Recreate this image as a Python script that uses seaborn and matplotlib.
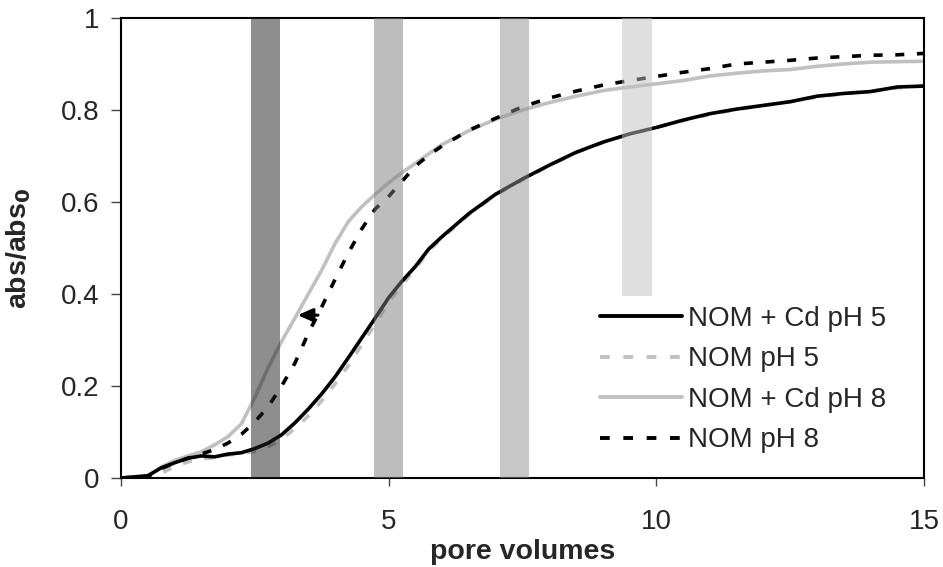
import matplotlib
matplotlib.use("Agg")
import matplotlib.pyplot as plt
import seaborn as sns
import pandas as pd

# ---- data ----
pore_volumes = [0, 0.5, 0.75, 1.0, 1.25, 1.5, 1.75, 2.0, 2.25, 2.5, 2.75, 3.0, 3.25, 3.5,
                3.75, 4.0, 4.25, 4.5, 4.75, 5.0, 5.25, 5.5, 5.75, 6.0, 6.5, 7.0, 7.5, 8.0,
                8.5, 9.0, 9.5, 10.0, 10.5, 11.0, 11.5, 12.0, 12.5, 13.0, 13.5, 14.0, 14.5, 15.0]

nom_cd_ph5 = [0, 0.005, 0.022, 0.033, 0.043, 0.048, 0.046, 0.052, 0.055, 0.064, 0.076, 0.094,
              0.12, 0.15, 0.183, 0.22, 0.262, 0.305, 0.348, 0.392, 0.428, 0.46, 0.498, 0.525,
              0.575, 0.617, 0.65, 0.68, 0.708, 0.73, 0.748, 0.762, 0.778, 0.792, 0.802, 0.81,
              0.818, 0.83, 0.836, 0.84, 0.85, 0.852]

nom_ph5 = [0, 0, 0.01, 0.025, 0.035, 0.042, 0.044, 0.05, 0.053, 0.058, 0.068, 0.084,
           0.108, 0.135, 0.168, 0.205, 0.245, 0.29, 0.335, 0.382, 0.42, 0.455, 0.494, 0.522,
           0.573, 0.615, 0.648, 0.679, 0.707, 0.729, 0.747, 0.762, 0.777, 0.79, 0.801, 0.81,
           0.818, 0.828, 0.835, 0.841, 0.848, 0.853]

nom_cd_ph8 = [0, 0.002, 0.024, 0.038, 0.048, 0.057, 0.072, 0.09, 0.118, 0.175, 0.24, 0.297,
              0.348, 0.4, 0.452, 0.51, 0.558, 0.59, 0.617, 0.642, 0.664, 0.684, 0.705, 0.725,
              0.755, 0.78, 0.8, 0.816, 0.83, 0.842, 0.85, 0.857, 0.864, 0.874, 0.88, 0.885,
              0.888, 0.895, 0.9, 0.904, 0.905, 0.906]

nom_ph8 = [0, 0.003, 0.02, 0.033, 0.043, 0.052, 0.062, 0.076, 0.095, 0.122, 0.155, 0.2,
           0.25, 0.315, 0.372, 0.432, 0.49, 0.542, 0.585, 0.612, 0.645, 0.678, 0.702, 0.722,
           0.756, 0.782, 0.807, 0.826, 0.841, 0.854, 0.864, 0.873, 0.882, 0.89, 0.9, 0.904,
           0.908, 0.913, 0.916, 0.919, 0.92, 0.923]

series_labels = ["NOM + Cd pH 5", "NOM pH 5", "NOM + Cd pH 8", "NOM pH 8"]

# shaded sampling windows (pore volumes) and lower limits
band_starts = [2.43, 4.73, 7.08, 9.36]
band_ends = [2.97, 5.27, 7.63, 9.91]
band_bottoms = [0.0, 0.0, 0.0, 0.395]

x_ticks = [0, 5, 10, 15]
y_ticks = [0, 0.2, 0.4, 0.6, 0.8, 1.0]
y_tick_labels = ["0", "0.2", "0.4", "0.6", "0.8", "1"]

# ---- build long table ----
frames = []
for lab, vals in zip(series_labels, [nom_cd_ph5, nom_ph5, nom_cd_ph8, nom_ph8]):
    frames.append(pd.DataFrame({"pv": pore_volumes, "ratio": vals, "series": lab}))
df = pd.concat(frames, ignore_index=True)

sns.set_style("white")
plt.rcParams["font.family"] = ["Liberation Sans", "DejaVu Sans"]

fig = plt.figure(figsize=(9.43, 5.67), dpi=100)
ax = fig.add_axes([121 / 943, 1 - 478 / 567, (924 - 121) / 943, (478 - 18) / 567])

palette = {"NOM + Cd pH 5": "#000000", "NOM pH 5": "#c0c0c0",
           "NOM + Cd pH 8": "#c0c0c0", "NOM pH 8": "#000000"}
dashes = {"NOM + Cd pH 5": "", "NOM pH 5": (2.5, 3.5),
          "NOM + Cd pH 8": "", "NOM pH 8": (2.5, 3.5)}

sns.lineplot(data=df, x="pv", y="ratio", hue="series", style="series",
             hue_order=series_labels, style_order=series_labels,
             palette=palette, dashes=dashes, linewidth=2.6, ax=ax, legend=True)
for line, lab in zip(ax.get_lines(), series_labels):
    if lab == "NOM + Cd pH 5":
        line.set_zorder(4)
    if lab == "NOM pH 8":
        line.set_zorder(5)

band_colors = ["#1e1e1e", "#7d7d7d", "#919191", "#c1c1c1"]
for x0, x1, yb, c in zip(band_starts, band_ends, band_bottoms, band_colors):
    ax.axvspan(x0, x1, ymin=yb, ymax=1, facecolor=c, alpha=0.5, edgecolor="none", zorder=6)

ax.annotate("", xy=(3.3, 0.354), xytext=(3.68, 0.354),
            arrowprops=dict(arrowstyle="-|>,head_length=0.9,head_width=0.4",
                            color="black", lw=2.2, shrinkA=0, shrinkB=0), zorder=7)

ax.set_xlim(0, 15)
ax.set_ylim(0, 1)
ax.set_xticks(x_ticks)
ax.set_xticklabels([str(t) for t in x_ticks])
ax.set_yticks(y_ticks)
ax.set_yticklabels(y_tick_labels)
ax.tick_params(axis="x", direction="out", length=6, width=1, color="#444444",
               labelsize=20, pad=16, bottom=True)
ax.tick_params(axis="y", direction="out", length=7.5, width=1, color="#444444",
               labelsize=20, pad=8, left=True)

for s in ax.spines.values():
    s.set_color("black")
    s.set_linewidth(1.5)

ax.set_xlabel("pore volumes", fontsize=20.5, fontweight="bold", labelpad=3)
ax.set_ylabel("abs/abs$_\\mathbf{0}$", fontsize=20.5, fontweight="bold", labelpad=20)

handles, labels = ax.get_legend_handles_labels()
leg = ax.legend(handles, labels, loc="upper left", bbox_to_anchor=(0.597, 0.374),
                frameon=False, fontsize=20, handlelength=2.95, handletextpad=0.2,
                labelspacing=0.52, borderpad=0, borderaxespad=0)
for h in leg.get_lines():
    h.set_linewidth(2.8)

fig.savefig("out.png", dpi=100)
